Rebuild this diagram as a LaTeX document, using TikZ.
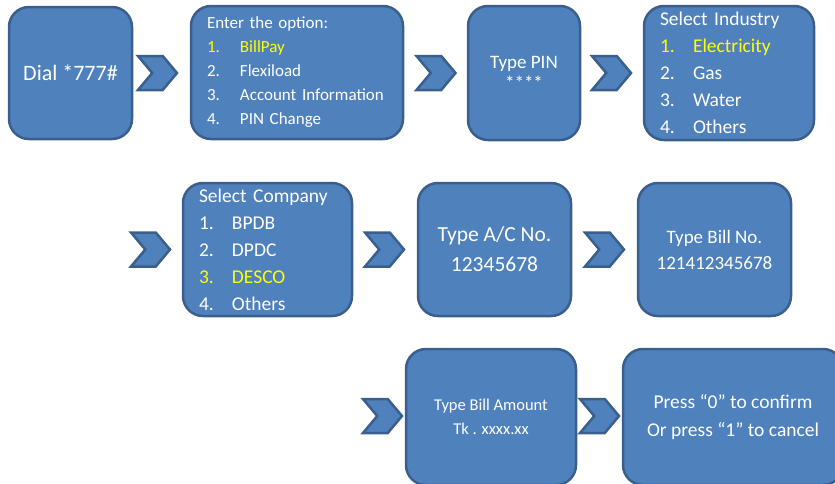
\documentclass[tikz,border=0pt]{standalone}
\usepackage{fontspec}
\setmainfont{Carlito}
\usetikzlibrary{shapes.symbols}
\definecolor{boxblue}{HTML}{4F81BD}
\definecolor{boxedge}{HTML}{3A5F8C}
\definecolor{pick}{HTML}{FFFF00}
\newcommand{\fs}[2]{\fontsize{#1}{#2}\selectfont}
\newcommand{\opt}[2]{\makebox[33pt][l]{#1}#2}

\begin{document}
\begin{tikzpicture}[x=1pt, y=-1pt,
  every node/.style = {text=white},
  menubox/.style = {draw=boxedge, fill=boxblue, line width=2.5pt,
    rounded corners=20pt, inner sep=0pt, align=center},
  listbox/.style = {menubox, align=left, inner xsep=16pt},
  chev/.style = {signal, signal from=west, signal to=east,
    signal pointer angle=100, draw=boxedge, fill=boxblue, line width=2.5pt,
    minimum width=39pt, minimum height=34pt, inner sep=0pt}]
  \useasboundingbox (0,0) rectangle (835,483);
  \clip (0,0) rectangle (835,483);
  % first row
  \node[menubox, minimum width=123pt, minimum height=132pt, font=\fs{22}{26}]
    (dial) at (70.5,73) {Dial *777\#};
  \node[listbox, text width=180pt, minimum height=133pt, font=\fs{17}{24}]
    (option) at (297,72.5) {Enter the option:\\
      \textcolor{pick}{\opt{1.}{BillPay}}\\
      \opt{2.}{Flexiload}\\
      \opt{3.}{Account Information}\\
      \opt{4.}{PIN Change}};
  \node[menubox, minimum width=112pt, minimum height=134pt, font=\fs{19}{21}]
    (pin) at (524,73) {Type PIN\\****};
  \node[listbox, text width=138pt, minimum height=134pt, font=\fs{19.5}{27}]
    (industry) at (729,73) {Select Industry\\
      \textcolor{pick}{\opt{1.}{Electricity}}\\
      \opt{2.}{Gas}\\
      \opt{3.}{Water}\\
      \opt{4.}{Others}};
  \node[chev] (c1) at (157.5,73) {};
  \node[chev] (c2) at (436,73) {};
  \node[chev] (c3) at (611.5,73) {};
  % second row
  \node[chev] (c4) at (150.5,249.5) {};
  \node[listbox, text width=137pt, minimum height=133pt, font=\fs{19.5}{27}]
    (company) at (267.5,249.5) {Select Company\\
      \opt{1.}{BPDB}\\
      \opt{2.}{DPDC}\\
      \textcolor{pick}{\opt{3.}{DESCO}}\\
      \opt{4.}{Others}};
  \node[chev] (c5) at (384.5,249.5) {};
  \node[menubox, minimum width=153pt, minimum height=133pt, font=\fs{21.5}{30}]
    (acno) at (494.5,249.5) {Type A/C No.\\12345678};
  \node[chev] (c6) at (604.5,249.5) {};
  \node[menubox, minimum width=153pt, minimum height=133pt, font=\fs{19}{26}]
    (billno) at (714.5,249.5) {Type Bill No.\\121412345678};
  % third row
  \node[chev] (c7) at (382.5,416) {};
  \node[menubox, minimum width=170pt, minimum height=136pt, font=\fs{16.5}{24}]
    (amount) at (491,417) {Type Bill Amount\\Tk . xxxx.xx};
  \node[chev] (c8) at (599.5,416) {};
  \node[menubox, minimum width=220pt, minimum height=136pt, font=\fs{19.5}{28}]
    (confirm) at (733,417) {Press “0” to confirm\\Or press “1” to cancel};
\end{tikzpicture}
\end{document}
